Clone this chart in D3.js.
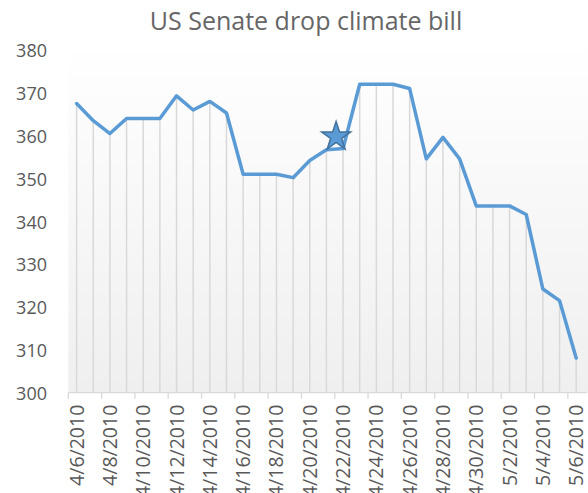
<!DOCTYPE html>
<html>
<head>
<meta charset="utf-8">
<script src="https://cdn.jsdelivr.net/npm/d3@7"></script>
<style>
  html, body { margin: 0; padding: 0; background: #fff; }
  svg { display: block; font-family: "Open Sans", sans-serif; }
</style>
</head>
<body>
<svg id="chart" width="588" height="493"></svg>
<script>
// Daily readings, 6 April to 6 May 2010
const dates = [
  "2010-04-06", "2010-04-07", "2010-04-08", "2010-04-09", "2010-04-10",
  "2010-04-11", "2010-04-12", "2010-04-13", "2010-04-14", "2010-04-15",
  "2010-04-16", "2010-04-17", "2010-04-18", "2010-04-19", "2010-04-20",
  "2010-04-21", "2010-04-22", "2010-04-23", "2010-04-24", "2010-04-25",
  "2010-04-26", "2010-04-27", "2010-04-28", "2010-04-29", "2010-04-30",
  "2010-05-01", "2010-05-02", "2010-05-03", "2010-05-04", "2010-05-05",
  "2010-05-06"
];
const values = [
  367.5, 363.5, 360.5, 364, 364,
  364, 369.3, 366, 368, 365.3,
  351, 351, 351, 350.2, 354.2,
  356.7, 357, 372, 372, 372,
  371, 354.6, 359.6, 354.6, 343.6,
  343.6, 343.6, 341.6, 324.2, 321.5,
  308.1
];
// Event marker: the Senate drops the climate bill
const eventTime = ["2010-04-22T02:00"];
const eventValue = [360];

const yTicks = [300, 310, 320, 330, 340, 350, 360, 370, 380];
const titleText = "US Senate drop climate bill";

const svg = d3.select("#chart");
const parseDay = d3.timeParse("%Y-%m-%d");
const parseTime = d3.timeParse("%Y-%m-%dT%H:%M");
const fmt = d3.timeFormat("%-m/%-d/%Y");

const days = dates.map(parseDay);
const data = days.map((d, i) => ({ day: d, mid: d3.timeHour.offset(d, 12), value: values[i] }));

const plot = { left: 68.3, right: 584.5, top: 50, bottom: 392.7 };

const x = d3.scaleTime()
  .domain([days[0], d3.timeDay.offset(days[days.length - 1], 1)])
  .range([plot.left, plot.right]);
const y = d3.scaleLinear().domain([300, 380]).range([plot.bottom, plot.top]);

// plot-area background shading
const defs = svg.append("defs");
const grad = defs.append("linearGradient").attr("id", "bg")
  .attr("x1", 0).attr("y1", 0).attr("x2", 0).attr("y2", 1);
grad.append("stop").attr("offset", "0%").attr("stop-color", "#ffffff");
grad.append("stop").attr("offset", "100%").attr("stop-color", "#efefef");
svg.append("rect")
  .attr("x", plot.left).attr("y", plot.top - 8)
  .attr("width", 588 - plot.left).attr("height", plot.bottom - plot.top + 8)
  .attr("fill", "url(#bg)");

// title
svg.append("text")
  .attr("x", 306).attr("y", 30)
  .attr("text-anchor", "middle")
  .attr("font-size", 25)
  .attr("fill", "#666666")
  .text(titleText);

// y tick labels
svg.append("g").selectAll("text").data(yTicks).join("text")
  .attr("x", 47).attr("y", d => y(d) + 1)
  .attr("dy", "0.35em")
  .attr("text-anchor", "end")
  .attr("font-size", 18)
  .attr("fill", "#595959")
  .text(d => d);

// drop lines from each point to the axis
svg.append("g").selectAll("line").data(data).join("line")
  .attr("x1", d => x(d.mid)).attr("x2", d => x(d.mid))
  .attr("y1", d => y(d.value)).attr("y2", y(300))
  .attr("stroke", "#d9d9d9").attr("stroke-width", 1.5);

// x axis: tick marks between every second day, labels at day centres
const tickDays = days.filter((d, i) => i % 2 === 0);
const axis = svg.append("g");
axis.append("line")
  .attr("x1", plot.left).attr("x2", 587)
  .attr("y1", y(300)).attr("y2", y(300))
  .attr("stroke", "#d9d9d9").attr("stroke-width", 1.3);
axis.selectAll("line.tick").data(tickDays).join("line")
  .attr("class", "tick")
  .attr("x1", d => x(d)).attr("x2", d => x(d))
  .attr("y1", y(300)).attr("y2", y(300) + 6)
  .attr("stroke", "#d9d9d9").attr("stroke-width", 1.3);
axis.selectAll("text").data(tickDays).join("text")
  .attr("transform", d => `translate(${x(d3.timeHour.offset(d, 12))},${y(300) + 12}) rotate(-90)`)
  .attr("dy", "0.36em")
  .attr("text-anchor", "end")
  .attr("font-size", 19.5)
  .attr("fill", "#595959")
  .text(d => fmt(d));

// value line
const line = d3.line().x(d => x(d.mid)).y(d => y(d.value));
svg.append("path")
  .datum(data)
  .attr("d", line)
  .attr("fill", "none")
  .attr("stroke", "#5b9bd5")
  .attr("stroke-width", 3.5)
  .attr("stroke-linejoin", "round")
  .attr("stroke-linecap", "round");

// event star
const events = eventTime.map((t, i) => ({ t: parseTime(t), value: eventValue[i] }));
svg.append("g").selectAll("path").data(events).join("path")
  .attr("transform", d => `translate(${x(d.t)},${y(d.value) + 1})`)
  .attr("d", d3.symbol(d3.symbolStar, 260))
  .attr("fill", "#5b9bd5")
  .attr("stroke", "#41719c")
  .attr("stroke-width", 1.5);
</script>
</body>
</html>
